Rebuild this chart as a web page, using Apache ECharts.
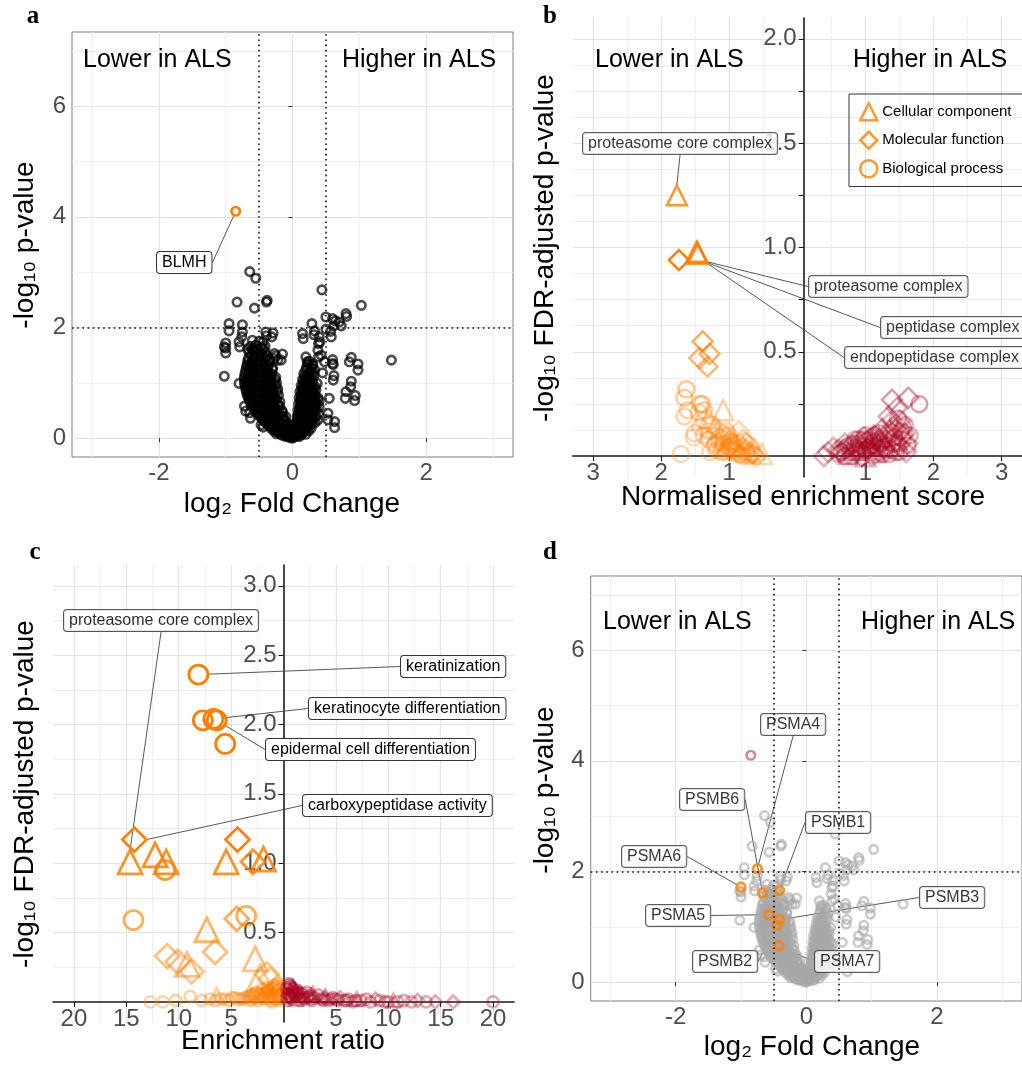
<!DOCTYPE html>
<html>
<head>
<meta charset="utf-8">
<title>ALS proteomics panels</title>
<script src="https://cdn.jsdelivr.net/npm/echarts@6/dist/echarts.min.js"></script>
<style>
html, body { margin: 0; padding: 0; background: #fff; }
#chart { width: 1022px; height: 1072px; }
</style>
</head>
<body>
<div id="chart"></div>
<script>
// ---------- data ----------
// volcano (panels a and d): [log2 fold change, -log10 p]
var volcanoPoints = [
    [-0.1,0.03],[-0.04,0.01],[0.02,0.02],[0.07,0.04],[-0.17,0.06],[0.13,0.06],[0,0],
    [-0.24,0.08],[-0.17,0.09],[-0.09,0.07],[-0.02,0.06],[0.05,0.08],[0.12,0.09],[0.2,0.07],
    [-0.28,0.13],[-0.21,0.11],[-0.13,0.14],[-0.06,0.12],[0.03,0.11],[0.1,0.14],[0.17,0.12],[0.24,0.13],
    [-0.32,0.18],[-0.25,0.17],[-0.17,0.19],[-0.09,0.16],[0.0,0.17],[0.07,0.18],[0.14,0.17],[0.21,0.19],[0.28,0.18],
    [-0.36,0.23],[-0.29,0.25],[-0.21,0.22],[-0.13,0.24],[-0.06,0.21],[0.05,0.23],[0.12,0.25],[0.19,0.22],[0.26,0.24],
    [-0.41,0.29],[-0.33,0.28],[-0.25,0.3],[-0.17,0.27],[-0.09,0.26],[0.06,0.28],[0.13,0.3],[0.2,0.27],[0.27,0.29],[0.34,0.28],
    [-0.45,0.34],[-0.37,0.32],[-0.29,0.35],[-0.21,0.33],[-0.14,0.36],[0.1,0.34],[0.17,0.36],[0.24,0.32],[0.31,0.35],[0.38,0.33],
    [-0.49,0.4],[-0.41,0.39],[-0.33,0.41],[-0.25,0.38],[-0.18,0.4],[-0.1,0.39],[0.07,0.4],[0.14,0.41],[0.21,0.38],[0.28,0.4],[0.35,0.39],
    [-0.53,0.45],[-0.45,0.47],[-0.37,0.44],[-0.29,0.46],[-0.22,0.43],[-0.15,0.47],[0.11,0.45],[0.18,0.47],[0.25,0.44],[0.32,0.46],[0.39,0.44],
    [-0.56,0.51],[-0.48,0.5],[-0.4,0.52],[-0.32,0.49],[-0.24,0.51],[-0.16,0.5],[0.08,0.51],[0.15,0.5],[0.22,0.52],[0.29,0.49],[0.36,0.51],
    [-0.59,0.56],[-0.51,0.58],[-0.43,0.55],[-0.35,0.57],[-0.27,0.54],[-0.19,0.58],[0.12,0.57],[0.19,0.54],[0.26,0.58],[0.33,0.55],[0.4,0.57],
    [-0.62,0.62],[-0.54,0.61],[-0.46,0.63],[-0.38,0.6],[-0.3,0.62],[-0.22,0.61],[0.09,0.62],[0.16,0.61],[0.23,0.63],[0.3,0.6],[0.37,0.62],
    [-0.64,0.67],[-0.56,0.69],[-0.48,0.66],[-0.4,0.68],[-0.32,0.65],[-0.24,0.69],[-0.19,0.66],[0.12,0.68],[0.19,0.65],[0.26,0.69],[0.33,0.66],[0.4,0.68],
    [-0.66,0.73],[-0.58,0.72],[-0.5,0.74],[-0.42,0.71],[-0.34,0.73],[-0.26,0.72],[0.1,0.73],[0.17,0.72],[0.24,0.74],[0.31,0.71],[0.38,0.73],
    [-0.68,0.78],[-0.6,0.8],[-0.52,0.77],[-0.44,0.79],[-0.36,0.76],[-0.28,0.8],[-0.21,0.78],[0.13,0.79],[0.2,0.76],[0.27,0.8],[0.34,0.77],
    [-0.69,0.84],[-0.61,0.83],[-0.53,0.85],[-0.45,0.82],[-0.37,0.84],[-0.29,0.83],[-0.23,0.84],[0.11,0.84],[0.18,0.83],[0.25,0.85],[0.32,0.82],
    [-0.7,0.89],[-0.62,0.91],[-0.54,0.88],[-0.46,0.9],[-0.38,0.87],[-0.3,0.91],[-0.22,0.89],[0.14,0.9],[0.21,0.87],[0.28,0.91],[0.35,0.88],
    [-0.71,0.95],[-0.63,0.94],[-0.55,0.96],[-0.47,0.93],[-0.39,0.95],[-0.31,0.94],[-0.25,0.95],[0.13,0.95],[0.2,0.94],[0.27,0.96],[0.34,0.93],
    [-0.72,1.0],[-0.64,1.02],[-0.56,0.99],[-0.48,1.01],[-0.4,0.98],[-0.32,1.02],[-0.24,1.0],[0.16,1.01],[0.23,0.98],[0.3,1.02],[0.37,0.99],
    [-0.72,1.06],[-0.64,1.05],[-0.56,1.07],[-0.48,1.04],[-0.4,1.06],[-0.32,1.05],[-0.26,1.06],[0.15,1.06],[0.22,1.05],[0.29,1.07],
    [-0.72,1.11],[-0.64,1.13],[-0.56,1.1],[-0.48,1.12],[-0.4,1.09],[-0.32,1.13],[-0.25,1.1],[0.18,1.12],[0.25,1.09],[0.32,1.13],
    [-0.71,1.17],[-0.63,1.16],[-0.55,1.18],[-0.47,1.15],[-0.39,1.17],[-0.31,1.16],[0.17,1.17],[0.24,1.16],[0.31,1.18],
    [-0.7,1.22],[-0.62,1.24],[-0.54,1.21],[-0.46,1.23],[-0.38,1.2],[-0.3,1.24],[0.2,1.23],[0.27,1.2],[0.33,1.24],
    [-0.69,1.28],[-0.61,1.27],[-0.53,1.29],[-0.45,1.26],[-0.37,1.28],[-0.3,1.27],[0.21,1.28],[0.28,1.27],
    [-0.68,1.33],[-0.6,1.35],[-0.52,1.32],[-0.44,1.34],[-0.36,1.31],[0.23,1.34],[0.3,1.31],
    [-0.67,1.39],[-0.59,1.38],[-0.51,1.4],[-0.43,1.37],[-0.35,1.39],[0.25,1.39],
    [-0.66,1.44],[-0.58,1.46],[-0.5,1.43],[-0.42,1.45],[-0.34,1.42],
    [-0.62,1.5],[-0.54,1.49],[-0.46,1.51],[-0.38,1.48],
    [-0.65,1.55],[-0.57,1.57],[-0.49,1.54],[-0.41,1.56],
    [-0.6,1.61],[-0.52,1.6],[-0.44,1.62],
    [-0.63,1.66],[-0.55,1.68],[-0.47,1.65],
    [-0.6,1.77],[-0.5,1.75],
    // densest part of the cloud
    [-0.14,0.05],[-0.07,0.04],[0.0,0.04],[0.05,0.05],[0.1,0.03],
    [-0.2,0.1],[-0.12,0.1],[-0.03,0.09],[0.0,0.12],[0.08,0.11],[0.15,0.1],
    [-0.25,0.15],[-0.17,0.15],[-0.1,0.15],[-0.03,0.14],[0.06,0.15],[0.13,0.15],[0.2,0.15],
    [-0.3,0.2],[-0.23,0.2],[-0.16,0.2],[-0.1,0.19],[-0.03,0.19],[0.02,0.2],[0.09,0.2],[0.16,0.19],[0.23,0.2],
    [-0.37,0.26],[-0.3,0.27],[-0.22,0.26],[-0.15,0.27],[-0.08,0.24],[0.02,0.26],[0.09,0.27],[0.16,0.26],[0.23,0.27],[0.3,0.26],
    [-0.42,0.31],[-0.34,0.31],[-0.26,0.31],[-0.18,0.3],[-0.11,0.31],[0.07,0.31],[0.14,0.32],[0.21,0.3],[0.28,0.31],
    [-0.46,0.37],[-0.38,0.37],[-0.3,0.37],[-0.22,0.36],[-0.14,0.38],[0.08,0.37],[0.15,0.38],[0.22,0.36],[0.29,0.37],
    [-0.5,0.42],[-0.42,0.42],[-0.34,0.42],[-0.26,0.42],[-0.18,0.42],[0.09,0.42],[0.16,0.43],[0.23,0.42],[0.3,0.42],
    [-0.54,0.48],[-0.46,0.48],[-0.38,0.48],[-0.3,0.48],[-0.21,0.48],[0.1,0.48],[0.17,0.48],[0.24,0.48],[0.31,0.48],
    [-0.57,0.53],[-0.49,0.53],[-0.41,0.53],[-0.33,0.53],[-0.25,0.53],[0.11,0.53],[0.18,0.53],[0.25,0.53],[0.32,0.53],
    [-0.6,0.59],[-0.52,0.59],[-0.44,0.59],[-0.36,0.59],[-0.28,0.59],[0.12,0.59],[0.19,0.59],[0.26,0.59],[0.33,0.59],
    [-0.62,0.64],[-0.54,0.64],[-0.46,0.64],[-0.38,0.64],[-0.29,0.64],[0.13,0.64],[0.2,0.64],[0.27,0.64],[0.34,0.64],
    [-0.64,0.7],[-0.56,0.7],[-0.48,0.7],[-0.4,0.7],[-0.31,0.7],[0.13,0.7],[0.2,0.7],[0.27,0.7],[0.34,0.7],
    [-0.65,0.75],[-0.57,0.75],[-0.49,0.75],[-0.41,0.75],[-0.32,0.75],[0.14,0.75],[0.21,0.75],[0.28,0.75],
    [-0.66,0.81],[-0.58,0.81],[-0.5,0.81],[-0.42,0.81],[-0.33,0.81],[0.15,0.81],[0.22,0.81],[0.29,0.81],
    [-0.66,0.86],[-0.58,0.86],[-0.5,0.86],[-0.42,0.86],[-0.34,0.86],[0.16,0.86],[0.23,0.86],[0.3,0.86],
    [-0.66,0.92],[-0.58,0.92],[-0.5,0.92],[-0.42,0.92],[-0.34,0.92],[0.17,0.92],[0.24,0.92],[0.31,0.92],
    [-0.67,0.97],[-0.59,0.97],[-0.51,0.97],[-0.43,0.97],[-0.35,0.97],[0.18,0.97],[0.25,0.97],
    [-0.67,1.03],[-0.59,1.03],[-0.51,1.03],[-0.43,1.03],[-0.35,1.03],[0.19,1.03],[0.26,1.03],
    [-0.67,1.08],[-0.59,1.08],[-0.51,1.08],[-0.43,1.08],[-0.35,1.08],[0.21,1.08],
    [-0.66,1.14],[-0.58,1.14],[-0.5,1.14],[-0.42,1.14],[-0.34,1.14],[0.22,1.14],
    [-0.65,1.2],[-0.57,1.2],[-0.49,1.2],[-0.41,1.2],
    [-0.64,1.25],[-0.56,1.25],[-0.48,1.25],[-0.4,1.25],
    [-0.63,1.31],[-0.55,1.31],[-0.47,1.31],
    [-0.62,1.36],[-0.54,1.36],[-0.46,1.36],
    // scattered points
    [1.48,1.41],[1.03,2.4],[0.88,1.46],[0.98,1.34],[0.88,1.03],[0.8,0.84],[0.94,0.77],[0.63,0.3],[0.63,0.19],[0.53,0.33],
    [0.79,0.72],[0.93,0.68],[0.55,0.72],[0.53,0.45],[0.85,1.38],[0.98,1.23],[0.6,1.35],[0.61,1.33],[0.61,1.05],[0.87,0.93],
    [0.45,1.18],[0.48,1.38],[0.39,1.47],[0.39,1.71],[0.58,1.83],
    [-1.02,1.12],[-0.8,0.99],[-0.72,0.58],[-0.64,0.46],[-0.7,0.49],[-0.63,0.36],[-0.47,0.24],[-0.44,0.2],
    [-1.0,1.63],[-0.8,1.74],[-0.95,2.07],[-0.95,1.94],[-0.75,1.92],[-0.79,1.65],[-1.02,1.65],[-1.0,1.54],
    [-0.83,2.46],[-0.57,2.35],[-0.64,3.01],[-0.55,2.89],[-0.39,2.46],[-0.38,2.49],[0.44,2.68],
    [-0.4,1.92],[-0.29,1.9],[0.15,1.89],[0.29,2.07],[0.33,1.94],[0.5,2.19],[0.6,2.16],[0.7,2.1],[0.8,2.25],[0.81,2.2],
    [0.57,1.93],[0.4,1.83],[0.38,1.59],[0.2,1.47],[0.3,1.34],[0.43,1.5],[0.6,1.42],[0.62,1.13],
    [-0.15,1.52],[-0.27,1.53],[-0.44,1.74],[-0.59,1.59],[-0.22,1.41],[-0.17,1.41],[-0.25,1.49],[-0.27,1.44],
    [0.22,1.38],[0.16,1.8],[0.32,1.87],[0.41,1.74],[0.73,2.03],[0.62,2.03],[0.64,2.12],[0.5,1.97],
    [-0.76,1.83],[-0.31,1.83],[-0.39,1.85]
];
var blmhPoint = [-0.85, 4.1];
var proteasomeGenes = ['PSMA4', 'PSMA6', 'PSMB6', 'PSMB1', 'PSMA5', 'PSMB3', 'PSMB2', 'PSMA7'];
var proteasomeFC = [-0.75, -1.0, -0.67, -0.41, -0.57, -0.41, -0.45, -0.42];
var proteasomeP = [2.05, 1.72, 1.61, 1.66, 1.22, 1.13, 1.03, 0.66];

// panel b, GSEA: [signed NES, -log10 FDR]
var gseaComponent = [
    [-1.09,0.22],[-0.52,0.01],[-0.62,0.03],[-0.8,0.05],[-0.95,0.08],[-1.2,0.14],[-1.3,0.18],[-0.7,0.02],
    [1.05,0.06],[1.2,0.09],[0.9,0.03],[1.3,0.05],[1.15,0.02],[0.75,0.01],[1.45,0.08],[1.0,0.0],[1.35,0.12]
];
var gseaFunction = [
    [-1.74,0.94],[-1.39,0.55],[-1.29,0.49],[-1.44,0.47],[-1.32,0.43],[-0.86,0.12],[-0.95,0.06],[-0.75,0.03],
    [-0.9,0.02],[-1.05,0.1],[-0.65,0.01],[-1.15,0.12],[-0.8,0.08],[-1.0,0.03],[-0.7,0.05],[-0.6,0.0],
    [1.39,0.27],[1.63,0.28],[1.46,0.23],[1.34,0.19],[1.39,0.17],[1.51,0.17],[1.25,0.13],[1.58,0.11],[0.39,0.0],
    [0.53,0.04],[0.65,0.02],[0.8,0.05],[1.5,0.05],[1.6,0.02],[1.45,0.13],[1.2,0.08],[1.1,0.06],[0.95,0.04],[1.3,0.1],
    [0.6,0.03],[0.7,0.06],[0.85,0.02],[0.98,0.09],[1.12,0.1],[1.28,0.04],[1.4,0.14],[1.55,0.1],[1.62,0.06],[0.45,0.02]
];
var gseaProcess = [
    [-1.63,0.32],[-1.66,0.28],[-1.43,0.25],[-1.4,0.25],[-1.61,0.22],[-1.45,0.21],[-1.37,0.22],[-1.66,0.19],
    [-1.37,0.17],[-1.25,0.15],[-1.51,0.11],[-1.52,0.09],[-1.37,0.1],[-1.09,0.08],[-1.0,0.05],[-1.18,0.03],
    [-1.1,0.04],[-1.71,0.01],[-0.95,0.02],[-0.85,0.01],[-0.9,0.04],[-1.05,0.02],[-0.8,0.0],[-1.2,0.06],
    [-1.3,0.12],[-1.15,0.07],[-1.0,0.1],[-0.72,0.0],[-1.28,0.02],
    [-0.75,0.02],[-0.82,0.04],[-0.88,0.06],[-0.92,0.03],[-0.98,0.07],[-1.02,0.04],[-1.08,0.06],[-1.12,0.02],
    [-1.14,0.09],[-1.22,0.05],[-0.78,0.07],[-0.68,0.01],[-1.04,0.12],[-1.3,0.08],[-1.43,0.14],
    [1.79,0.25],[1.55,0.08],[1.62,0.05],[1.5,0.02],[1.65,0.1],[1.4,0.06],[0.6,0.01],[0.7,0.03],[0.8,0.0],
    [0.85,0.04],[0.9,0.06],[0.95,0.02],[1.0,0.07],[1.05,0.04],[1.1,0.09],[1.15,0.05],[1.2,0.02],[1.25,0.07],
    [1.3,0.03],[1.0,0.1],[1.1,0.0],[0.9,0.08],[1.2,0.11],[1.35,0.01],[0.75,0.05],[1.45,0.02],[1.15,0.1],
    [0.7,0.0],[1.05,0.08],[0.95,0.0],
    [0.65,0.02],[0.72,0.04],[0.78,0.02],[0.82,0.06],[0.88,0.03],[0.92,0.05],[0.98,0.08],[1.02,0.03],[1.08,0.05],
    [1.12,0.07],[1.18,0.04],[1.22,0.06],[1.28,0.08],[1.32,0.05],[1.38,0.03],[1.42,0.09],[1.48,0.06],[1.52,0.12],
    [1.58,0.15],[1.48,0.18],[1.55,0.14],[0.85,0.08],[1.0,0.03],[1.1,0.02],[1.25,0.01]
];
var gseaTerms = ['proteasome core complex', 'proteasome complex', 'peptidase complex', 'endopeptidase complex'];
var gseaTermNES = [-1.77, -1.48, -1.47, -1.46];
var gseaTermFDR = [1.25, 0.98, 0.975, 0.97];

// panel c, over-representation: [signed enrichment ratio, -log10 FDR]
var oraComponent = [
    [-12.25,1.06],[-11.2,1.01],[-5.47,1.01],[-1.91,1.03],[-7.32,0.52],[-2.7,0.31],[-9.2,0.27],[-2.23,0.18],
    [-6.37,0.05],[-3.5,0.03],[-2.0,0.04],[-1.0,0.06],
    [10.5,0.01],[7.0,0.02],[4.0,0.04],[2.8,0.06],[1.7,0.05],[0.9,0.11],[0.6,0.08],[1.2,0.02]
];
var oraFunction = [
    [-4.39,1.17],[-2.92,1.01],[-4.46,0.6],[-6.53,0.36],[-11.1,0.33],[-10.1,0.29],[-8.76,0.22],[-1.59,0.2],
    [-1.27,0.16],[-3.0,0.05],[-1.5,0.08],
    [16.2,0.0],[14.5,0.0],[12.8,0.01],[8.8,0.02],[5.4,0.03],[3.9,0.03],[2.6,0.05],[1.6,0.07],[1.0,0.09],[0.5,0.04]
];
var oraProcess = [
    [-7.7,2.03],[-5.57,1.86],[-11.3,0.95],[-14.33,0.59],[-3.56,0.62],[-8.9,0.04],[-12.7,0.0],[-11.5,0.0],
    [-10.3,0.01],[-7.8,0.01],[-7.0,0.02],[-6.0,0.02],[-5.2,0.01],[-4.6,0.03],[-4.0,0.02],[-3.4,0.04],
    [-2.8,0.03],[-2.3,0.06],[-1.8,0.05],[-1.4,0.08],[-1.0,0.1],[-0.7,0.07],[-0.5,0.04],[-1.2,0.03],
    [-2.0,0.09],[-0.9,0.12],[-0.4,0.02],[-1.6,0.1],[-2.6,0.07],[-3.1,0.01],[-0.6,0.11],[-1.1,0.0],
    [-6.5,0.01],[-5.6,0.02],[-4.9,0.03],[-4.3,0.02],[-3.7,0.03],[-3.2,0.04],[-2.9,0.05],[-2.5,0.04],
    [-2.1,0.05],[-1.7,0.07],[-1.3,0.06],[-1.1,0.09],[-0.8,0.1],[-0.6,0.13],[-0.4,0.09],[-0.3,0.05],
    [-0.2,0.02],[-0.8,0.05],[-1.5,0.04],[-1.9,0.02],[-2.4,0.01],[-0.5,0.01],[-0.9,0.02],[-1.3,0.01],
    [20.0,0.0],[13.6,0.0],[12.2,0.0],[10.9,0.0],[10.0,0.0],[9.2,0.01],[8.3,0.0],[7.4,0.01],[6.6,0.0],
    [5.8,0.01],[5.0,0.02],[4.3,0.01],[3.6,0.02],[3.0,0.03],[2.4,0.04],[1.8,0.06],[1.3,0.08],[0.9,0.1],
    [0.6,0.12],[0.4,0.06],[1.1,0.04],[2.0,0.02],[2.7,0.01],[1.5,0.03],[0.8,0.02],[11.5,0.01],[9.7,0.0],
    [7.9,0.02],[6.2,0.02],[4.7,0.03],[3.3,0.05],[2.2,0.07],[1.0,0.06],[0.5,0.09],[0.7,0.03],
    [0.3,0.1],[0.5,0.13],[0.7,0.11],[0.9,0.07],[1.2,0.05],[1.4,0.06],[1.9,0.03],[2.3,0.03],[2.6,0.02],
    [0.3,0.03],[0.4,0.01],[1.6,0.01],[0.6,0.05],[3.8,0.01],[4.5,0.02],[5.2,0.01],[6.0,0.01],[6.9,0.01]
];
var oraTerms = ['proteasome core complex', 'keratinization', 'keratinocyte differentiation',
    'epidermal cell differentiation', 'carboxypeptidase activity'];
var oraTermRatio = [-14.64, -8.12, -6.69, -6.37, -14.23];
var oraTermFDR = [1.01, 2.36, 2.04, 2.03, 1.17];
var oraTermType = ['Cellular component', 'Biological process', 'Biological process',
    'Biological process', 'Molecular function'];

// ---------- styling / layout ----------
var FONT = '"Liberation Sans", Arial, sans-serif';
var ORANGE = '#ff7f00';
var CRIMSON = '#a6001f';
var SHAPE = {'Cellular component': 'triangle', 'Molecular function': 'diamond', 'Biological process': 'circle'};

// top-left corner of every label box, in pixels
var boxA = {'BLMH': [157, 252]};
var boxB = {'proteasome core complex': [583, 133], 'proteasome complex': [809, 276],
    'peptidase complex': [881, 317], 'endopeptidase complex': [845, 347]};
var boxC = {'proteasome core complex': [64, 610], 'keratinization': [401, 656],
    'keratinocyte differentiation': [309, 698], 'epidermal cell differentiation': [266, 739],
    'carboxypeptidase activity': [303, 795]};
var boxD = {'PSMA4': [761, 714], 'PSMB6': [680, 789], 'PSMB1': [806, 812], 'PSMA6': [622, 846],
    'PSMA5': [646, 905], 'PSMB3': [920, 887], 'PSMB2': [693, 951], 'PSMA7': [815, 951]};

function boxLayout(map) {
    return function (p) {
        var b = map[p.text];
        if (!b) return {};
        return {x: b[0], y: b[1], align: 'left', verticalAlign: 'top'};
    };
}

var boxLabel = {
    show: true, formatter: '{b}', fontFamily: FONT, fontSize: 16, color: '#000',
    backgroundColor: '#fff', borderColor: '#333', borderWidth: 1, borderRadius: 3, padding: [3, 5, 2, 5]
};
var boxLine = {show: true, lineStyle: {color: '#444', width: 0.9}};

var gridLine = {lineStyle: {color: '#e3e3e3', width: 1.2}};
var minorLine = {show: true, lineStyle: {color: '#efefef', width: 1}};
var tickFont = {fontFamily: FONT, fontSize: 24, color: '#4d4d4d'};
var blackAxis = {onZero: false, lineStyle: {color: '#1a1a1a', width: 1.6}};

function opacityB(y) { return Math.max(0.3, Math.min(1, 0.15 + 0.9 * y)); }
function opacityC(y) { return y >= 1.1 ? 1 : Math.min(1, 0.33 + 0.5 * y); }

function shapeItems(points, opFn) {
    return points.map(function (p) {
        return {value: p, itemStyle: {color: 'transparent', borderColor: p[0] < 0 ? ORANGE : CRIMSON, opacity: opFn(p[1])}};
    });
}

function volcanoXAxis(gi) {
    return {
        type: 'value', gridIndex: gi, min: -3.3, max: 3.3, splitNumber: 3,
        axisLine: {show: false},
        axisTick: {show: true, length: 4, lineStyle: {color: '#333'}, customValues: [-2, 0, 2]},
        axisLabel: Object.assign({customValues: [-2, 0, 2], margin: 4}, tickFont),
        splitLine: gridLine, minorTick: {show: false, splitNumber: 2}, minorSplitLine: minorLine
    };
}
function volcanoYAxis(gi) {
    return {
        type: 'value', gridIndex: gi, min: -0.34, max: 7.34, splitNumber: 4,
        axisLine: {show: false},
        axisTick: {show: true, length: 4, lineStyle: {color: '#333'}, customValues: [0, 2, 4, 6]},
        axisLabel: Object.assign({customValues: [0, 2, 4, 6], margin: 6}, tickFont),
        splitLine: gridLine, minorTick: {show: false, splitNumber: 2}, minorSplitLine: minorLine
    };
}

var dotted = {
    silent: true, symbol: 'none', animation: false, label: {show: false},
    lineStyle: {color: '#111', type: [1.6, 3.6], width: 1.6},
    data: [{xAxis: -0.5}, {xAxis: 0.5}, {yAxis: 2}]
};

function ringSeries(gi, data, color, opacity, extra) {
    return Object.assign({
        type: 'scatter', xAxisIndex: gi, yAxisIndex: gi, data: data, symbol: 'circle', symbolSize: 8.5,
        itemStyle: {color: 'transparent', borderColor: color, borderWidth: 2.6, opacity: opacity}
    }, extra || {});
}

var proteasomePoints = proteasomeGenes.map(function (g, i) { return [proteasomeFC[i], proteasomeP[i]]; });

var texts = [];
function addText(x, y, str, size) {
    texts.push({
        type: 'text', x: x, y: y, z: 5,
        style: {text: str, fill: '#000', font: size + 'px ' + FONT, textAlign: 'left', textVerticalAlign: 'middle',
            align: 'left', verticalAlign: 'middle'}
    });
}
function addTitle(x, y, str, rotate) {
    texts.push({
        type: 'text', x: x, y: y, z: 5, rotation: rotate ? Math.PI / 2 : 0,
        style: {text: str, fill: '#000', font: '28px ' + FONT, textAlign: 'center', textVerticalAlign: 'middle',
            align: 'center', verticalAlign: 'middle'}
    });
}
function addLetter(x, y, str) {
    texts.push({
        type: 'text', x: x, y: y, z: 5,
        style: {text: str, fill: '#000', font: 'bold 25px "Liberation Serif", "Times New Roman", serif',
            textAlign: 'center', textVerticalAlign: 'middle', align: 'center', verticalAlign: 'middle'}
    });
}

addLetter(33, 17, 'a'); addLetter(550, 17, 'b'); addLetter(35, 553, 'c'); addLetter(550, 553, 'd');
addText(83, 60, 'Lower in ALS', 25); addText(342, 60, 'Higher in ALS', 25);
addText(595, 60, 'Lower in ALS', 25); addText(853, 60, 'Higher in ALS', 25);
addText(603, 622, 'Lower in ALS', 25); addText(861, 622, 'Higher in ALS', 25);
addTitle(292, 504, 'log\u2082 Fold Change'); addTitle(25, 245, '-log\u2081\u2080 p-value', true);
addTitle(803, 497, 'Normalised enrichment score'); addTitle(545, 248, '-log\u2081\u2080 FDR-adjusted p-value', true);
addTitle(283, 1041, 'Enrichment ratio'); addTitle(25, 794, '-log\u2081\u2080 FDR-adjusted p-value', true);
addTitle(812, 1047, 'log\u2082 Fold Change'); addTitle(545, 790, '-log\u2081\u2080 p-value', true);

var myChart = echarts.init(document.getElementById('chart'), null, {renderer: 'canvas'});
var option = {
    animation: false,
    backgroundColor: '#fff',
    grid: [
        {left: 72, top: 32, width: 441, height: 425, show: true, borderColor: '#7f7f7f', borderWidth: 1, backgroundColor: 'transparent'},
        {left: 572.7, top: 18, width: 462, height: 459},
        {left: 53, top: 565, width: 461, height: 457},
        {left: 590.7, top: 576, width: 442, height: 425, show: true, borderColor: '#7f7f7f', borderWidth: 1, backgroundColor: 'transparent'}
    ],
    xAxis: [
        volcanoXAxis(0),
        {
            // sits on y = 0 (20.9 px above the grid bottom)
            type: 'value', gridIndex: 1, min: -3.3, max: 3.3, splitNumber: 6, position: 'bottom', offset: -20.9,
            axisLine: blackAxis,
            axisTick: {show: true, length: 5, lineStyle: {color: '#1a1a1a'}, customValues: [-3, -2, -1, 1, 2, 3]},
            axisLabel: Object.assign({customValues: [-3, -2, -1, 1, 2, 3], margin: 5,
                formatter: function (v) { return String(Math.abs(v)); }}, tickFont),
            splitLine: gridLine, minorTick: {show: false, splitNumber: 2}, minorSplitLine: minorLine
        },
        {
            type: 'value', gridIndex: 2, min: -22, max: 22, splitNumber: 9, position: 'bottom', offset: -20.1,
            axisLine: blackAxis,
            axisTick: {show: true, length: 5, lineStyle: {color: '#1a1a1a'}, customValues: [-20, -15, -10, -5, 5, 10, 15, 20]},
            axisLabel: Object.assign({customValues: [-20, -15, -10, -5, 5, 10, 15, 20], margin: 5,
                formatter: function (v) { return String(Math.abs(v)); }}, tickFont),
            splitLine: gridLine, minorTick: {show: false, splitNumber: 2}, minorSplitLine: minorLine
        },
        volcanoXAxis(3)
    ],
    yAxis: [
        volcanoYAxis(0),
        {
            // sits on x = 0 (230 px right of the grid left)
            type: 'value', gridIndex: 1, min: -0.1, max: 2.1, splitNumber: 5, position: 'left', offset: -231,
            axisLine: blackAxis,
            axisTick: {show: true, length: 5, lineStyle: {color: '#1a1a1a'},
                customValues: [0.25, 0.5, 0.75, 1, 1.25, 1.5, 1.75, 2]},
            axisLabel: Object.assign({customValues: [0.5, 1, 1.5, 2], margin: 7,
                formatter: function (v) { return v.toFixed(1); }}, tickFont),
            splitLine: gridLine, minorTick: {show: false, splitNumber: 4}, minorSplitLine: minorLine
        },
        {
            type: 'value', gridIndex: 2, min: -0.145, max: 3.15, splitNumber: 7, position: 'left', offset: -230.5,
            axisLine: blackAxis,
            axisTick: {show: true, length: 5, lineStyle: {color: '#1a1a1a'}, customValues: [0.5, 1, 1.5, 2, 2.5, 3]},
            axisLabel: Object.assign({customValues: [0.5, 1, 1.5, 2, 2.5, 3], margin: 7,
                formatter: function (v) { return v.toFixed(1); }}, tickFont),
            splitLine: gridLine, minorTick: {show: false, splitNumber: 2}, minorSplitLine: minorLine
        },
        volcanoYAxis(3)
    ],
    legend: {
        left: 849, top: 94, orient: 'vertical', selectedMode: false,
        borderColor: '#333', borderWidth: 1, padding: [8, 12, 8, 10], itemGap: 9,
        itemWidth: 17, itemHeight: 17, textStyle: {fontFamily: FONT, fontSize: 15, color: '#000'},
        data: [
            {name: 'Cellular component', icon: 'triangle', itemStyle: {color: 'transparent', borderColor: ORANGE, borderWidth: 2.5}},
            {name: 'Molecular function', icon: 'diamond', itemStyle: {color: 'transparent', borderColor: ORANGE, borderWidth: 2.5}},
            {name: 'Biological process', icon: 'circle', itemStyle: {color: 'transparent', borderColor: ORANGE, borderWidth: 2.5}}
        ]
    },
    graphic: texts,
    series: [
        // panel a
        ringSeries(0, volcanoPoints.concat(proteasomePoints), '#000', 0.7, {markLine: dotted}),
        ringSeries(0, [{name: 'BLMH', value: blmhPoint}], ORANGE, 1, {
            label: boxLabel, labelLine: boxLine, labelLayout: boxLayout(boxA)
        }),
        // panel b
        {
            name: 'Cellular component', type: 'scatter', xAxisIndex: 1, yAxisIndex: 1, symbol: 'triangle', symbolSize: 20,
            itemStyle: {borderWidth: 2.5}, data: shapeItems(gseaComponent, opacityB)
        },
        {
            name: 'Molecular function', type: 'scatter', xAxisIndex: 1, yAxisIndex: 1, symbol: 'diamond', symbolSize: 20,
            itemStyle: {borderWidth: 2.5}, data: shapeItems(gseaFunction, opacityB)
        },
        {
            name: 'Biological process', type: 'scatter', xAxisIndex: 1, yAxisIndex: 1, symbol: 'circle', symbolSize: 16,
            itemStyle: {borderWidth: 2.5}, data: shapeItems(gseaProcess, opacityB)
        },
        {
            name: 'GSEA labelled', type: 'scatter', xAxisIndex: 1, yAxisIndex: 1, symbol: 'triangle', symbolSize: 20,
            itemStyle: {color: 'transparent', borderColor: ORANGE, borderWidth: 2.5},
            data: gseaTerms.map(function (t, i) { return {name: t, value: [gseaTermNES[i], gseaTermFDR[i]]}; }),
            label: boxLabel, labelLine: boxLine, labelLayout: boxLayout(boxB)
        },
        // panel c
        {
            name: 'ORA component', type: 'scatter', xAxisIndex: 2, yAxisIndex: 2, symbol: 'triangle',
            symbolSize: function (v) { return v[1] < 0.15 ? 13 : 24; },
            itemStyle: {borderWidth: 2.8}, data: shapeItems(oraComponent, opacityC)
        },
        {
            name: 'ORA function', type: 'scatter', xAxisIndex: 2, yAxisIndex: 2, symbol: 'diamond',
            symbolSize: function (v) { return v[1] < 0.15 ? 13 : 24; },
            itemStyle: {borderWidth: 2.8}, data: shapeItems(oraFunction, opacityC)
        },
        {
            name: 'ORA process', type: 'scatter', xAxisIndex: 2, yAxisIndex: 2, symbol: 'circle',
            symbolSize: function (v) { return v[1] < 0.15 ? 11 : 19; },
            itemStyle: {borderWidth: 2.8}, data: shapeItems(oraProcess, opacityC)
        },
        {
            name: 'ORA labelled', type: 'scatter', xAxisIndex: 2, yAxisIndex: 2,
            data: oraTerms.map(function (t, i) {
                var sym = SHAPE[oraTermType[i]];
                return {
                    name: t, value: [oraTermRatio[i], oraTermFDR[i]], symbol: sym,
                    symbolSize: sym === 'circle' ? 19 : 24,
                    itemStyle: {color: 'transparent', borderColor: ORANGE, borderWidth: 2.8, opacity: opacityC(oraTermFDR[i])}
                };
            }),
            label: boxLabel, labelLine: boxLine, labelLayout: boxLayout(boxC)
        },
        // panel d
        ringSeries(3, volcanoPoints, '#a9a9a9', 0.6, {markLine: dotted}),
        ringSeries(3, [blmhPoint], '#b51f45', 0.55),
        ringSeries(3, proteasomeGenes.map(function (g, i) { return {name: g, value: proteasomePoints[i]}; }), ORANGE, 1, {
            itemStyle: {color: 'transparent', borderColor: ORANGE, borderWidth: 3},
            label: boxLabel, labelLine: boxLine, labelLayout: boxLayout(boxD)
        })
    ]
};
myChart.setOption(option);
</script>
</body>
</html>
